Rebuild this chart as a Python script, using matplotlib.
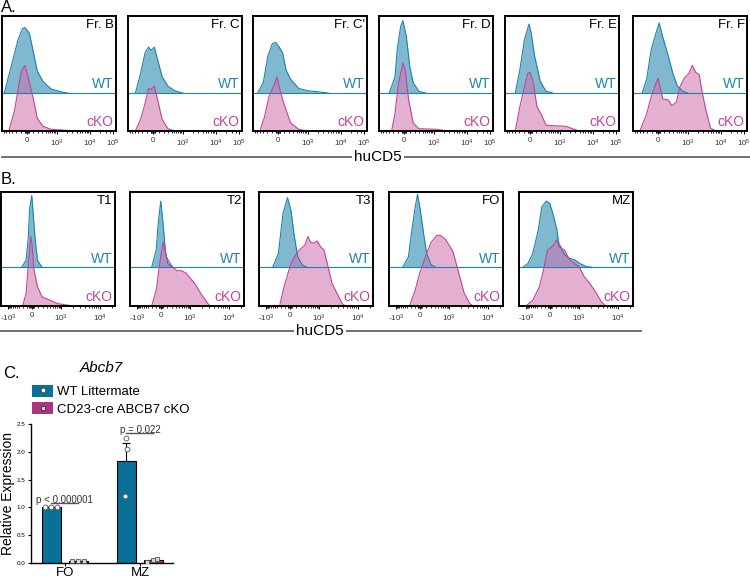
import numpy as np
import matplotlib
matplotlib.use('Agg')
import matplotlib.pyplot as plt
from matplotlib.lines import Line2D
from matplotlib.patches import Patch
from matplotlib.legend_handler import HandlerTuple

plt.rcParams['font.family'] = ['Liberation Sans', 'DejaVu Sans']
plt.rcParams['mathtext.default'] = 'regular'

# ---- panel A: histograms (x = display position 0-100, height = % of panel) ----
a_titles = ['Fr. B', 'Fr. C', "Fr. C'", 'Fr. D', 'Fr. E', 'Fr. F']
a_wt = [
    [(2, 0), (8, 23), (14, 46), (18, 56), (20, 57), (24, 52), (27, 38), (31, 19), (36, 10), (43, 3.5), (52, 1), (58, 0)],
    [(6.5, 0), (11, 17), (15, 35), (18, 40), (20, 37), (23, 40), (26, 29), (30, 14), (35, 6), (41, 2), (48, 0)],
    [(4, 0), (9, 9), (13, 32), (17, 43), (20, 44), (23, 40), (26, 35), (29, 20), (33, 12), (40, 4), (48, 2), (58, 1), (66, 0)],
    [(9, 0), (14, 14), (16, 38), (19, 58), (21, 63), (24, 49), (27, 23), (30, 9), (35, 1.5), (41, 0)],
    [(9, 0), (13, 20), (17, 46), (21, 60), (23, 52), (26, 32), (31, 10), (36, 1.5), (42, 0)],
    [(8, 0), (12, 12), (16, 38), (21, 55), (23, 61), (26, 49), (31, 32), (35, 17), (39, 6), (44, 1.5), (48, 0)],
]
a_ko = [
    [(6, 0), (11, 18), (15, 41), (17, 52), (20, 57), (22, 50), (27, 30), (31, 11), (36, 4), (43, 1.5), (58, 0.5), (69, 0)],
    [(6.5, 0), (11, 10), (15, 24), (18, 37), (20, 36), (23, 39), (26, 27), (30, 10), (35, 2), (41, 0)],
    [(6, 0), (10, 12), (14, 30), (19, 41), (21, 47), (23, 38), (27, 24), (33, 7), (40, 1.5), (48, 0)],
    [(11, 0), (14, 15), (17, 41), (21, 59), (23, 53), (26, 27), (30, 7), (35, 2), (50, 1.5), (61, 0)],
    [(9, 0), (13, 21), (17, 38), (20, 50), (22, 51), (25, 41), (28, 21), (32, 14), (36, 5), (45, 4.5), (54, 4), (58, 2.5), (65, 0)],
    [(6, 0), (12, 15), (16, 30), (20, 41), (22, 46), (26, 28), (31, 27), (34, 22), (38, 25), (41, 38), (45, 46),
     (49, 50), (52, 57), (55, 51), (58, 49), (61, 32), (64, 18), (68, 2.5), (73, 0)],
]
a_tick_pos = [22, 48, 77, 97]
a_tick_lab = ['0', '10$^3$', '10$^4$', '10$^5$']

# ---- panel B ----
b_titles = ['T1', 'T2', 'T3', 'FO', 'MZ']
b_wt = [
    [(18, 0), (22, 6), (24, 27), (25, 50), (27, 63), (28, 50), (30, 24), (32, 6), (36, 0)],
    [(19, 0), (23, 15), (25, 41), (27, 58), (29, 38), (31, 15), (33, 3.5), (37, 0)],
    [(12, 0), (17, 12), (21, 47), (25, 61), (28, 50), (31, 27), (34, 9), (38, 2), (42, 0)],
    [(12, 0), (17, 9), (20, 32), (23, 53), (25, 64), (27, 53), (30, 32), (33, 12), (37, 2), (41, 0)],
    [(3.5, 0), (8, 3.5), (12, 12), (17, 33), (20, 53), (24, 58), (27, 56), (30, 46), (33, 34), (35, 21), (40, 11),
     (44, 8), (49, 6.5), (53, 3.5), (59, 0.6), (64, 0)],
]
b_ko = [
    [(19, 0), (22, 11), (24, 37), (26, 61), (27, 56), (29, 31), (32, 17), (36, 8), (43, 5), (50, 2), (57, 1), (63, 0)],
    [(19, 0), (23, 14), (26, 37), (29, 56), (32, 43), (36, 36), (41, 31), (45, 31), (49, 29), (54, 23), (58, 18),
     (62, 11), (67, 4), (70, 0)],
    [(18, 0), (22, 17), (27, 34), (31, 43), (35, 49), (40, 53), (43, 61), (45, 56), (48, 55), (51, 57), (54, 52),
     (57, 49), (60, 37), (64, 20), (69, 10), (73, 2), (76, 0)],
    [(18, 0), (23, 14), (27, 29), (33, 46), (37, 56), (42, 62), (45, 62), (49, 59), (53, 53), (56, 48), (59, 37),
     (62, 26), (66, 11), (71, 2), (74, 0)],
    [(6, 0), (12, 5), (18, 17), (22, 34), (25, 49), (30, 53), (33, 58), (35, 52), (40, 49), (44, 41), (49, 37),
     (53, 34), (57, 26), (62, 20), (68, 11), (72, 4), (76, 0)],
]
b_tick_pos = [6, 27, 53, 87]
b_tick_lab = ['-10$^3$', '0', '10$^3$', '10$^4$']

# ---- panel C: qPCR ----
groups = ['FO', 'MZ']
wt_pts = [[1.0, 1.0, 1.0], [2.25, 2.05, 1.2]]
ko_pts = [[0.03, 0.04, 0.04], [0.02, 0.05, 0.07]]
pvals = ['p < 0.000001', 'p = 0.022']
p_line_y = [1.08, 2.34]

WT_LINE = '#1c84ac'
WT_FILL = '#2a8ab0'
KO_LINE = '#c4439a'
KO_FILL = '#cf6fae'
BAR_WT = '#0b7098'
BAR_KO = '#a8357d'

W, H = 750, 578
fig = plt.figure(figsize=(7.5, 5.78), dpi=100)


def px_axes(left, top, right, bottom):
    return fig.add_axes([left / W, 1 - bottom / H, (right - left) / W, (bottom - top) / H])


def minor_ticks(p_neg, p0, p3, p4):
    pos = []
    m = np.arange(1, 10)
    lin = np.arcsinh(m * 100 / 200) / np.arcsinh(5)
    pos += list(p0 + (p3 - p0) * lin)
    neg_span = (p0 - p_neg) if p_neg is not None else (p3 - p0)
    pos += list(p0 - neg_span * lin)
    lg = np.log10(np.arange(2, 10))
    pos += list(p3 + (p4 - p3) * lg)
    pos += list(p4 + (p4 - p3) * lg)
    pos += list(p0 + np.array([-2, -1.4, -0.7, 0.7, 1.4, 2]))
    return [p for p in pos if 0.5 < p < 99.5]


def histo(ax, wt, ko, title, base, ticks, labels, minors):
    wx, wy = np.array(wt).T
    kx, ky = np.array(ko).T
    ax.fill_between(wx, base, base + wy, color=WT_FILL, alpha=0.6, lw=0)
    ax.plot(wx, base + wy, color=WT_LINE, lw=0.8)
    ax.axhline(base, color=WT_LINE, lw=0.8)
    ax.fill_between(kx, 0, ky, color=KO_FILL, alpha=0.55, lw=0)
    ax.plot(kx, ky, color=KO_LINE, lw=0.8)
    ax.set_xlim(0, 100)
    ax.set_ylim(0, 100)
    ax.set_yticks([])
    ax.set_xticks(ticks)
    ax.set_xticklabels(labels, fontsize=5.8, color='#333')
    ax.set_xticks(minors, minor=True)
    ax.tick_params(axis='x', which='major', length=2.5, width=0.7, pad=2)
    ax.tick_params(axis='x', which='minor', length=1.6, width=0.6)
    for s in ax.spines.values():
        s.set_linewidth(1.4)
    ax.text(98, 97, title, ha='right', va='top', fontsize=9.5)
    ax.text(98, base + 1.5, 'WT', ha='right', va='bottom', fontsize=10, color=WT_LINE)
    ax.text(98, 1.5, 'cKO', ha='right', va='bottom', fontsize=10, color=KO_LINE)


a_left = [2, 128, 253, 379, 505, 633]
a_minor = minor_ticks(None, *a_tick_pos[:3])
for i in range(6):
    ax = px_axes(a_left[i], 16, a_left[i] + 114, 131)
    histo(ax, a_wt[i], a_ko[i], a_titles[i], 33, a_tick_pos, a_tick_lab, a_minor)

b_left = [1, 130, 259, 389, 519]
b_minor = minor_ticks(b_tick_pos[0], *b_tick_pos[1:])
for i in range(5):
    ax = px_axes(b_left[i], 192, b_left[i] + 114, 306)
    histo(ax, b_wt[i], b_ko[i], b_titles[i], 34, b_tick_pos, b_tick_lab, b_minor)


def axis_title(x0, x1, y, xc):
    fig.add_artist(Line2D([x0 / W, x1 / W], [1 - y / H] * 2, transform=fig.transFigure, color='#555', lw=1.2))
    fig.text(xc / W, 1 - y / H, 'huCD5', ha='center', va='center', fontsize=11,
             bbox=dict(facecolor='white', edgecolor='none', pad=1.5))


axis_title(2, 750, 157, 378)
axis_title(0, 641, 331, 320)

fig.text(1 / W, 1 - 8 / H, 'A.', fontsize=12, va='center')
fig.text(1 / W, 1 - 180 / H, 'B.', fontsize=12, va='center')
fig.text(3 / W, 1 - 373 / H, 'C.', fontsize=12, va='center')
fig.text(101 / W, 1 - 368 / H, 'Abcb7', fontsize=11, va='center', ha='center', style='italic')

# ---- bar chart ----
ax = px_axes(31, 424, 173, 563)
x = np.arange(len(groups))
off = 0.18
bw = 0.25
jit_wt = [[-0.08, 0.0, 0.08], [0.0, 0.01, -0.02]]
jit_ko = [[-0.08, 0.0, 0.07], [-0.08, 0.0, 0.05]]
for i in range(len(groups)):
    for xc, pts, col, mk, jj, face in [(x[i] - off, wt_pts[i], BAR_WT, 'o', jit_wt[i], 'white'),
                                       (x[i] + off, ko_pts[i], BAR_KO, 's', jit_ko[i], '#d4d4d4')]:
        pts = np.array(pts)
        m = pts.mean()
        sem = pts.std(ddof=1) / np.sqrt(len(pts))
        ax.bar(xc, m, width=bw, color=col, edgecolor='black', lw=0.8, zorder=2)
        ax.errorbar(xc, m, yerr=[[0], [sem]], color='black', lw=0.8, capsize=3, capthick=0.8, zorder=3)
        ax.plot(xc + np.array(jj), pts, ls='none', marker=mk, ms=3.5, mfc=face,
                mec='#555', mew=0.6, zorder=4)
    ax.plot([x[i] - off, x[i] + off], [p_line_y[i]] * 2, color='#555', lw=1.0, clip_on=False)
    ax.text(x[i], p_line_y[i] - 0.04, pvals[i], ha='center', va='bottom', fontsize=7, color='#333', clip_on=False)

ax.set_xlim(-0.45, 1.44)
ax.set_ylim(0, 2.5)
ax.set_xticks(x)
ax.set_xticklabels(groups, fontsize=9.5)
ax.set_yticks(np.arange(0, 2.51, 0.5))
ax.set_yticklabels([f'{v:.1f}' for v in np.arange(0, 2.51, 0.5)], fontsize=4.5)
ax.tick_params(axis='both', length=2.5, width=0.8, pad=1.5)
ax.tick_params(axis='x', pad=0.5)
for s in ['top', 'right']:
    ax.spines[s].set_visible(False)
for s in ['left', 'bottom']:
    ax.spines[s].set_linewidth(1.0)
ax.set_ylabel('Relative Expression', fontsize=10)
ax.yaxis.set_label_coords(-0.115, 0.5)

handles = [
    (Patch(facecolor=BAR_WT, edgecolor='none'),
     Line2D([], [], ls='none', marker='o', ms=3.5, mfc='white', mec='#333', mew=0.6)),
    (Patch(facecolor=BAR_KO, edgecolor='none'),
     Line2D([], [], ls='none', marker='s', ms=3.5, mfc='#d4d4d4', mec='#333', mew=0.6)),
]
fig.legend(handles, ['WT Littermate', 'CD23-cre ABCB7 cKO'], handler_map={tuple: HandlerTuple(ndivide=1)},
           loc='upper left', bbox_to_anchor=(32 / W, 1 - 385 / H), frameon=False, fontsize=9.5,
           handlelength=1.6, handleheight=1.0, handletextpad=0.3, labelspacing=0.3, borderpad=0,
           borderaxespad=0)

fig.savefig('out.png', dpi=100)
